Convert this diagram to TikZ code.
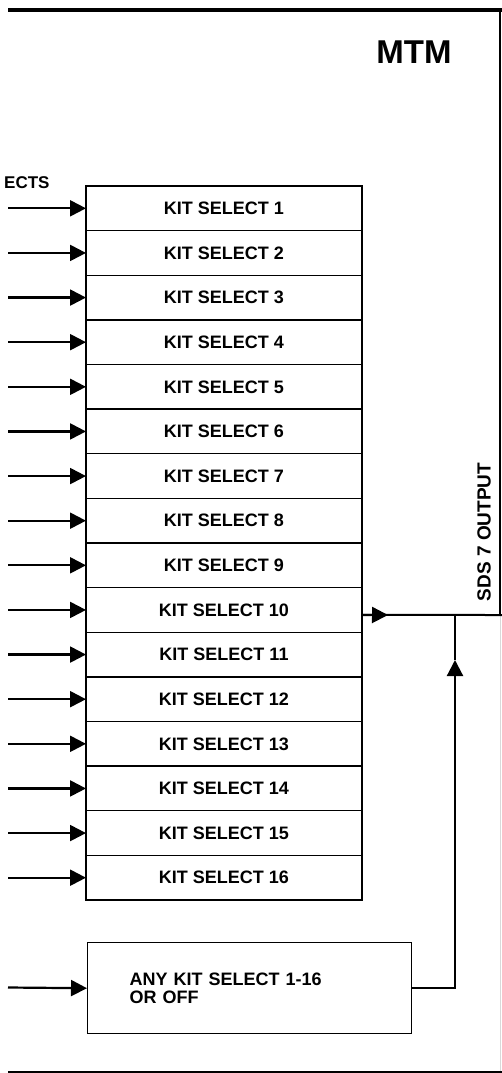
\documentclass[tikz,border=0pt]{standalone}
\usepackage{fontspec}
\setmainfont{Liberation Sans}
\usetikzlibrary{arrows.meta,calc}
\begin{document}
\begin{tikzpicture}[x=1pt,y=-1pt,
  kitbox/.style={draw,line width=1.4pt,minimum width=276pt,minimum height=44.625pt,inner sep=0pt,outer sep=0pt,
    font=\fontsize{18}{20}\selectfont\bfseries,anchor=north west},
  arr/.style={line width=2.2pt,-{Triangle[length=16pt,width=16pt]}},
  wire/.style={line width=2pt},
  lbl/.style={font=\fontsize{17}{20}\selectfont\bfseries,inner sep=0pt},
]
\useasboundingbox (0,0) rectangle (502,1073);
% frame
\draw[line width=3.2pt] (8,10) -- (502,10);
\draw[line width=1.8pt] (500,10) -- (500,615);
\draw[gray!30,line width=1pt] (500,615) -- (500,1073);
\draw[line width=1.8pt] (8,1072) -- (502,1072);
% titles
\node[font=\fontsize{33}{36}\selectfont\bfseries,inner sep=0pt] (mtm) at (414,52) {MTM};
\node[lbl,anchor=west] (sel) at (4,183) {ECTS};
\node[lbl,rotate=90,font=\fontsize{19}{20}\selectfont\bfseries] (sds) at (484,532) {SDS 7 OUTPUT};
% kit select stack
\foreach \i in {1,...,16} {
  \node[kitbox] (k\i) at (86,{186+(\i-1)*44.625}) {KIT SELECT \i};
  \coordinate (in\i) at (8,{186+(\i-0.5)*44.625});
  \draw[arr] (in\i) -- (k\i.west);
}
% any kit select box
\node[draw,line width=1.4pt,anchor=north west,minimum height=91pt,inner xsep=42pt,inner ysep=0pt,
  text width=240pt,align=left,font=\fontsize{18}{18}\selectfont\bfseries] (any) at (87,942)
  {ANY KIT SELECT 1-16\\OR OFF};
\coordinate (inA) at (8,987.5);
\draw[arr] (inA) -- (any.west);
% output
\coordinate (outS) at ($(k10.east)+(0,5)$);
\coordinate (tipO) at (388,615);
\coordinate (outR) at (502,615);
\coordinate (br) at (455,615);
\coordinate (upTip) at (455,660);
\draw[wire] (outS) -- (outR);
\draw[arr] (outS) -- (tipO);
\draw[arr] (any.east) -| (upTip);
\draw[wire] (upTip) -- (br);
\end{tikzpicture}
\end{document}
